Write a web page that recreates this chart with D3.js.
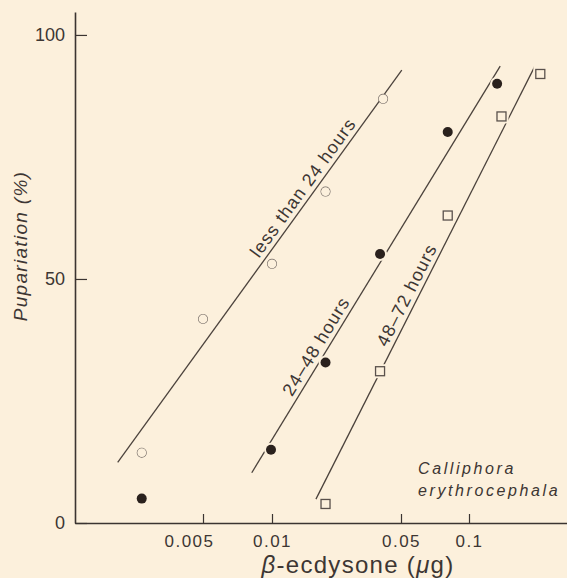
<!DOCTYPE html>
<html>
<head>
<meta charset="utf-8">
<script src="https://cdn.jsdelivr.net/npm/d3@7"></script>
<style>
  body { margin: 0; background: #fcf0dc; }
  svg { display: block; }
  text { font-family: "Liberation Sans", Arial, sans-serif; fill: #3d3633; }
</style>
</head>
<body>
<div id="chart"></div>
<script>
// values (dose in µg, pupariation in %)
const under24Dose = [0.0027, 0.005, 0.01, 0.0195, 0.04];
const under24Pct = [14.4, 41.8, 53.1, 67.9, 86.9];

const from24Dose = [0.0027, 0.0099, 0.0195, 0.0385, 0.0805, 0.133];
const from24Pct = [5.0, 15.0, 32.9, 55.1, 80.1, 90.0];

const from48Dose = [0.0195, 0.0385, 0.0805, 0.139, 0.206];
const from48Pct = [3.9, 31.1, 63.0, 83.3, 92.0];

// fitted lines, end points
const lineNames = ["less than 24 hours", "24\u201348 hours", "48\u201372 hours"];
const lineDose = [[0.00212, 0.0504], [0.00816, 0.1372], [0.0173, 0.194]];
const linePct = [[12.4, 92.8], [10.3, 93.6], [4.9, 93.4]];

const xTicks = [0.005, 0.01, 0.05, 0.1];
const xTickLabels = ["0.005", "0.01", "0.05", "0.1"];
const yTicks = [0, 50, 100];

const W = 567, H = 578;
const ink = "#3b3431";

const svg = d3.select("#chart").append("svg")
  .attr("width", W)
  .attr("height", H);

// the printed log axis is not quite even, so the scale is piecewise
var x = d3.scaleLog()
  .domain([0.00138, 0.005, 0.01, 0.05, 0.1, 0.27])
  .range([75, 203, 272, 401, 469, 567]);

var y = d3.scaleLinear()
  .domain([0, 104.7])
  .range([523, 12]);

// axes
var xAxis = d3.axisBottom(x)
  .tickValues(xTicks)
  .tickFormat((d, i) => xTickLabels[i])
  .tickSizeInner(-9)
  .tickSizeOuter(0)
  .tickPadding(12);

var yAxis = d3.axisLeft(y)
  .tickValues(yTicks)
  .tickSizeInner(-12)
  .tickSizeOuter(0)
  .tickPadding(10);

var gx = svg.append("g")
  .attr("transform", "translate(0," + y(0) + ")")
  .call(xAxis);
gx.select(".domain").attr("stroke", ink).attr("stroke-width", 1.6);
gx.selectAll(".tick line").attr("stroke", ink).attr("stroke-width", 1.2);
gx.selectAll(".tick text")
  .style("font-size", "17px")
  .style("letter-spacing", "1.5px")
  .attr("fill", "#4a4340")
  .attr("dx", (d, i) => (i === 0 ? -14 : 0));

var gy = svg.append("g")
  .attr("transform", "translate(" + x(0.00138) + ",0)")
  .call(yAxis);
gy.select(".domain").attr("stroke", ink).attr("stroke-width", 1.6);
gy.selectAll(".tick line").attr("stroke", ink).attr("stroke-width", 1.2);
gy.selectAll(".tick text")
  .style("font-size", "18px")
  .attr("fill", "#4a4340");

// axis titles
var xt = svg.append("text")
  .attr("x", 358)
  .attr("y", 573)
  .attr("text-anchor", "middle")
  .style("font-size", "24px")
  .style("letter-spacing", "1.3px");
xt.append("tspan").style("font-style", "italic").text("\u03B2");
xt.append("tspan").text("-ecdysone (");
xt.append("tspan").style("font-style", "italic").text("\u03BC");
xt.append("tspan").text("g)");

svg.append("text")
  .attr("transform", "translate(27,246) rotate(-90)")
  .attr("text-anchor", "middle")
  .style("font-size", "19px")
  .style("font-style", "italic")
  .style("letter-spacing", "1.3px")
  .text("Pupariation (%)");

// fitted lines
var line = d3.line()
  .x(d => x(d[0]))
  .y(d => y(d[1]));

var labelAt = [0.684, 0.297, 0.461];

lineNames.forEach((name, i) => {
  var pts = [[lineDose[i][0], linePct[i][0]], [lineDose[i][1], linePct[i][1]]];
  svg.append("path")
    .attr("d", line(pts))
    .attr("fill", "none")
    .attr("stroke", "#4b423c")
    .attr("stroke-width", 1.3);

  var x0 = x(pts[0][0]), y0 = y(pts[0][1]);
  var x1 = x(pts[1][0]), y1 = y(pts[1][1]);
  var px = x0 + (x1 - x0) * labelAt[i];
  var py = y0 + (y1 - y0) * labelAt[i];
  var ang = Math.atan2(y1 - y0, x1 - x0) * 180 / Math.PI;
  svg.append("text")
    .attr("transform", "translate(" + px + "," + py + ") rotate(" + ang + ")")
    .attr("dy", -5)
    .attr("text-anchor", "middle")
    .style("font-size", "18px")
    .style("letter-spacing", "1.1px")
    .text(name);
});

// markers, with a small halo so the lines break round them
var bg = "#fcf0dc";
var pts1 = under24Dose.map((d, i) => [d, under24Pct[i]]);
var pts2 = from24Dose.map((d, i) => [d, from24Pct[i]]);
var pts3 = from48Dose.map((d, i) => [d, from48Pct[i]]);

svg.selectAll(".open")
  .data(pts1)
  .enter()
  .append("circle")
  .attr("cx", d => x(d[0]))
  .attr("cy", d => y(d[1]))
  .attr("r", 4.4)
  .attr("fill", bg)
  .attr("stroke", "#6e6560")
  .attr("stroke-width", 1.2)
  .style("paint-order", "stroke");

svg.selectAll(".halo2")
  .data(pts2)
  .enter()
  .append("circle")
  .attr("cx", d => x(d[0]))
  .attr("cy", d => y(d[1]))
  .attr("r", 7)
  .attr("fill", bg);

svg.selectAll(".filled")
  .data(pts2)
  .enter()
  .append("circle")
  .attr("cx", d => x(d[0]))
  .attr("cy", d => y(d[1]))
  .attr("r", 5)
  .attr("fill", "#2a211d");

svg.selectAll(".halo3")
  .data(pts3)
  .enter()
  .append("rect")
  .attr("x", d => x(d[0]) - 7)
  .attr("y", d => y(d[1]) - 7)
  .attr("width", 14)
  .attr("height", 14)
  .attr("fill", bg);

svg.selectAll(".square")
  .data(pts3)
  .enter()
  .append("rect")
  .attr("x", d => x(d[0]) - 4.5)
  .attr("y", d => y(d[1]) - 4.5)
  .attr("width", 9)
  .attr("height", 9)
  .attr("fill", "none")
  .attr("stroke", "#5a514c")
  .attr("stroke-width", 1.3);

// species note
var note = svg.append("text")
  .attr("x", 418)
  .style("font-size", "16px")
  .style("font-style", "italic")
  .style("letter-spacing", "2.6px");
note.append("tspan").attr("x", 418).attr("y", 474).text("Calliphora");
note.append("tspan").attr("x", 418).attr("y", 496).text("erythrocephala");
</script>
</body>
</html>
